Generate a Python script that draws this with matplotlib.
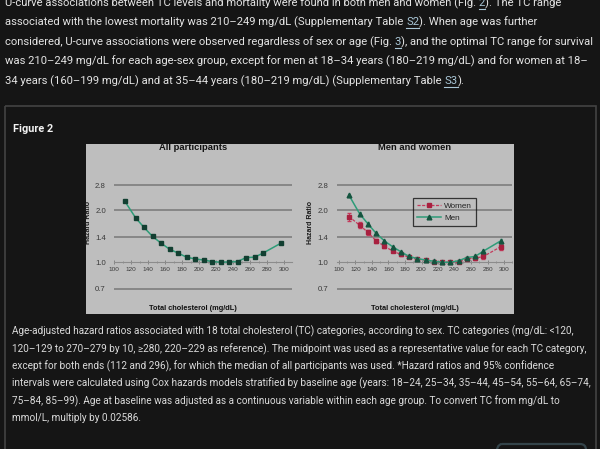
import matplotlib
matplotlib.use("Agg")
import matplotlib.pyplot as plt
from matplotlib.patches import Rectangle, FancyBboxPatch
from matplotlib.lines import Line2D
from matplotlib.ticker import FixedLocator, MultipleLocator, NullLocator, FormatStrFormatter

W, H = 600, 449

# --- data ---
tc_points = [112, 125, 135, 145, 155, 165, 175, 185, 195, 205, 215, 225, 235, 245, 255, 265, 275, 296]
hr_all = [2.27, 1.81, 1.59, 1.41, 1.29, 1.19, 1.13, 1.07, 1.045, 1.03, 1.01, 1.0, 1.005, 1.01, 1.064, 1.07, 1.13, 1.29]
hr_men = [2.45, 1.91, 1.67, 1.47, 1.33, 1.23, 1.15, 1.08, 1.05, 1.03, 1.013, 1.0, 1.0, 1.02, 1.065, 1.08, 1.16, 1.33]
hr_women = [1.84, 1.64, 1.49, 1.33, 1.24, 1.16, 1.11, 1.07, 1.04, 1.03, 1.01, 1.0, 1.0, 1.0, 1.05, 1.055, 1.08, 1.23]
women_err = [0.10, 0.07, 0.05, 0.04, 0.03, 0.02, 0.02, 0.015, 0.015, 0.01, 0.01, 0.0, 0.01, 0.01, 0.015, 0.02, 0.035, 0.045]
men_err = [0.05, 0.04, 0.03, 0.02, 0.02, 0.015, 0.015, 0.01, 0.01, 0.01, 0.01, 0.0, 0.01, 0.01, 0.01, 0.015, 0.025, 0.035]
hr_ticks = [0.7, 1.0, 1.4, 2.0, 2.8]
tc_ticks = list(range(100, 301, 20))

panel_titles = ["All participants", "Men and women"]
x_label = "Total cholesterol (mg/dL)"
y_label = "Hazard Ratio"

body_lines = [
    ("U-curve associations between TC levels and mortality were found in both men and women (Fig. ", "2", "). The TC range"),
    ("associated with the lowest mortality was 210\u2013249 mg/dL (Supplementary Table ", "S2", "). When age was further"),
    ("considered, U-curve associations were observed regardless of sex or age (Fig. ", "3", "), and the optimal TC range for survival"),
    ("was 210\u2013249 mg/dL for each age-sex group, except for men at 18\u201334 years (180\u2013219 mg/dL) and for women at 18\u2013", "", ""),
    ("34 years (160\u2013199 mg/dL) and at 35\u201344 years (180\u2013219 mg/dL) (Supplementary Table ", "S3", ")."),
]
caption_lines = [
    "Age-adjusted hazard ratios associated with 18 total cholesterol (TC) categories, according to sex. TC categories (mg/dL: <120,",
    "120\u2013129 to 270\u2013279 by 10, \u2265280, 220\u2013229 as reference). The midpoint was used as a representative value for each TC category,",
    "except for both ends (112 and 296), for which the median of all participants was used. *Hazard ratios and 95% confidence",
    "intervals were calculated using Cox hazards models stratified by baseline age (years: 18\u201324, 25\u201334, 35\u201344, 45\u201354, 55\u201364, 65\u201374,",
    "75\u201384, 85\u201399). Age at baseline was adjusted as a continuous variable within each age group. To convert TC from mg/dL to",
    "mmol/L, multiply by 0.02586.",
]

PAGE_BG = "#151515"
TEXT = "#e4e4e4"
LINK = "#a9c6d6"
CHART_BG = "#bebebe"
GRID = "#7e7e7e"
GREEN = "#2e9c78"
RED = "#c53a5c"

fig = plt.figure(figsize=(W / 100, H / 100), dpi=100, facecolor=PAGE_BG)
bg = fig.add_axes([0, 0, 1, 1])
bg.set_xlim(0, W)
bg.set_ylim(H, 0)
bg.axis("off")
r = fig.canvas.get_renderer()

body_font = dict(family=["Roboto", "DejaVu Sans"])
chart_font = dict(family=["Liberation Sans", "DejaVu Sans"])


def text_width(s, size, **kw):
    t = bg.text(0, 0, s, fontsize=size, **kw)
    w = t.get_window_extent(r).width
    t.remove()
    return w


def fit_size(s, width, **kw):
    return 10 * width / text_width(s, 10, **kw)


# --- page text ---
body_size = fit_size("".join(body_lines[2]), 589, **body_font)
body_y = [3, 22, 42, 61, 81]
for (pre, link, post), y in zip(body_lines, body_y):
    x0 = 5
    bg.text(x0, y, pre, fontsize=body_size, color=TEXT, va="center", **body_font)
    if link:
        x_end = x0 + text_width(pre + link, body_size, **body_font)
        lw = text_width(link, body_size, **body_font)
        bg.text(x_end - lw, y, link, fontsize=body_size, color=LINK, va="center", **body_font)
        bg.plot([x_end - lw, x_end], [y + 6, y + 6], color=LINK, lw=0.8)
        bg.text(x_end, y, post, fontsize=body_size, color=TEXT, va="center", **body_font)

# figure box
bg.add_patch(Rectangle((5, 106), 591, 400, facecolor="none", edgecolor="#434343", lw=1.2))
fs = fit_size("Figure 2", 40, weight="bold", **body_font)
bg.text(13, 129, "Figure 2", fontsize=fs, weight="bold", color="#f2f2f2", va="center", **body_font)

cap_size = fit_size(caption_lines[3], 576, **body_font)
cap_y = [331, 349, 366, 383, 401, 418]
for s, y in zip(caption_lines, cap_y):
    bg.text(12, y, s, fontsize=cap_size, color="#dadada", va="center", **body_font)

bg.add_patch(FancyBboxPatch((496, 444), 90, 20, boxstyle="round,pad=0,rounding_size=6",
                            facecolor="none", edgecolor="#34444a", lw=1.6))

# chart image background
bg.add_patch(Rectangle((86, 144), 428, 170, facecolor=CHART_BG, edgecolor="none"))


def px_axes(x0, x1, y0, y1):
    return fig.add_axes([x0 / W, 1 - y1 / H, (x1 - x0) / W, (y1 - y0) / H])


def style_panel(ax, xmin, xmax):
    ax.set_facecolor("none")
    ax.set_yscale("log")
    ax.set_xlim(xmin, xmax)
    ax.set_ylim(0.62, 3.3)
    for s in ["top", "right", "left"]:
        ax.spines[s].set_visible(False)
    ax.spines["bottom"].set_position(("data", 1.0))
    ax.spines["bottom"].set_color("#8c8c8c")
    ax.spines["bottom"].set_linewidth(0.8)
    ax.yaxis.set_major_locator(FixedLocator(hr_ticks))
    ax.yaxis.set_minor_locator(NullLocator())
    ax.yaxis.set_major_formatter(FormatStrFormatter("%.1f"))
    ax.xaxis.set_major_locator(FixedLocator(tc_ticks))
    ax.xaxis.set_minor_locator(MultipleLocator(10))
    ax.tick_params(axis="y", length=0, pad=6, labelsize=5.6, labelcolor="#3a3a3a")
    ax.tick_params(axis="x", which="major", direction="inout", length=3.5, width=0.6,
                   color="#7a7a7a", pad=1.5, labelsize=4.6, labelcolor="#3a3a3a")
    ax.tick_params(axis="x", which="minor", direction="inout", length=2, width=0.5, color="#7a7a7a")
    for lab in ax.get_xticklabels() + ax.get_yticklabels():
        lab.set_family(chart_font["family"])
    for v in hr_ticks:
        if v != 1.0:
            ax.axhline(v, color=GRID, lw=1.2, zorder=0)


ax1 = px_axes(114.3, 292, 172.7, 298.1)
style_panel(ax1, 100, 309)
ax1.plot(tc_points, hr_all, color=GREEN, lw=1.1, marker="s", ms=2.9,
         mfc="#123f31", mec="#123f31", zorder=3)

ax2 = px_axes(336.5, 512.3, 172.7, 298.1)
style_panel(ax2, 97, 310)
ax2.errorbar(tc_points, hr_women, yerr=women_err, color=RED, lw=0.9, ls=(0, (2.5, 1.2)),
             marker="s", ms=3.0, mfc="#a8203f", mec="#a8203f", ecolor=RED,
             elinewidth=0.7, capsize=1.3, zorder=3)
ax2.errorbar(tc_points, hr_men, yerr=men_err, color=GREEN, lw=1.1, marker="^", ms=3.4,
             mfc="#15543f", mec="#15543f", ecolor=GREEN, elinewidth=0.6, capsize=1.0, zorder=4)

handles = [
    Line2D([], [], color=RED, lw=0.9, ls=(0, (2.5, 1.2)), marker="s", ms=3.0,
           mfc="#a8203f", mec="#a8203f"),
    Line2D([], [], color=GREEN, lw=1.1, marker="^", ms=3.4, mfc="#15543f", mec="#15543f"),
]
leg = ax2.legend(handles, ["Women", "Men"], loc="upper left", bbox_to_anchor=(413, 198),
                 bbox_transform=bg.transData, borderaxespad=0, frameon=True, fancybox=False,
                 prop=dict(family=chart_font["family"], size=5.9), handlelength=2.9,
                 labelspacing=0.55, borderpad=0.5, handletextpad=0.4)
leg.get_frame().set_facecolor("none")
leg.get_frame().set_edgecolor("#111111")
leg.get_frame().set_linewidth(0.9)
for t in leg.get_texts():
    t.set_color("#222222")

# titles and axis labels drawn in page coordinates
ts = fit_size(panel_titles[0], 68, weight="bold", **chart_font)
for s, xc in zip(panel_titles, [193, 415]):
    bg.text(xc, 148, s, fontsize=ts, weight="bold", color="#111111", ha="center", va="center",
            zorder=5, **chart_font)
xs = fit_size(x_label, 87, weight="bold", **chart_font)
for xc in [193, 415]:
    bg.text(xc, 308, x_label, fontsize=xs, weight="bold", color="#111111", ha="center",
            va="center", zorder=5, **chart_font)
ys = fit_size(y_label, 43, weight="bold", **chart_font)
for xc in [89, 311]:
    bg.text(xc, 223, y_label, fontsize=ys, weight="bold", color="#1a1a1a", ha="center",
            va="center", rotation=90, zorder=5, **chart_font)

fig.savefig("out.png", dpi=100, facecolor=PAGE_BG)
